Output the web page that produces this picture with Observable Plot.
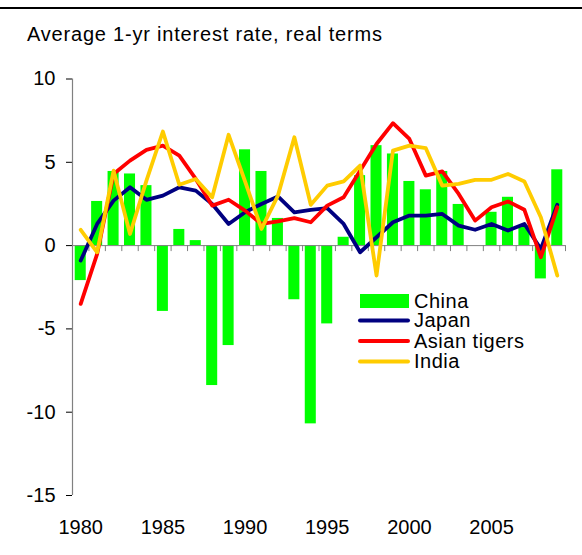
<!DOCTYPE html>
<html>
<head>
<meta charset="utf-8">
<script src="https://cdn.jsdelivr.net/npm/d3@7"></script>
<script src="https://cdn.jsdelivr.net/npm/@observablehq/plot@0.6"></script>
<style>
  body { margin: 0; background: #fff; font-family: "Liberation Sans", Arial, sans-serif; }
  #wrap { position: relative; width: 582px; height: 555px; overflow: hidden; background: #fff; }
  #rule { position: absolute; left: 0; top: 7px; width: 582px; height: 2px; background: #000; }
  #title { position: absolute; left: 27px; top: 24px; font-size: 20px; line-height: 20px; letter-spacing: 0.8px; color: #000; white-space: nowrap; }
  #chart { position: absolute; left: 0; top: 0; }
  #legend { position: absolute; left: 0; top: 0; }
</style>
</head>
<body>
<div id="wrap">
  <div id="rule"></div>
  <div id="title">Average 1-yr interest rate, real terms</div>
  <div id="chart"></div>
  <div id="legend"></div>
</div>
<script>
// ---- data ----
const years = [1980,1981,1982,1983,1984,1985,1986,1987,1988,1989,
               1990,1991,1992,1993,1994,1995,1996,1997,1998,1999,
               2000,2001,2002,2003,2004,2005,2006,2007,2008,2009];
const china  = [-2.1, 2.65, 4.45, 4.3, 3.6, -3.95, 0.97, 0.3, -8.4, -6.0,
                5.75, 4.45, 1.63, -3.25, -10.7, -4.7, 0.5, 4.2, 6.0, 5.5,
                3.85, 3.35, 4.45, 2.47, 0, 2.0, 2.9, 1.2, -2.0, 4.55];
const japan  = [-0.9, 1.3, 2.7, 3.5, 2.75, 3.0, 3.5, 3.3, 2.5, 1.3,
                2.0, 2.5, 2.95, 2.0, 2.15, 2.25, 1.3, -0.4, 0.5, 1.4,
                1.8, 1.8, 1.9, 1.2, 0.95, 1.3, 0.9, 1.3, -0.2, 2.45];
const tigers = [-3.5, -0.5, 4.3, 5.1, 5.75, 6.0, 5.4, 4.0, 2.4, 2.75,
                2.1, 1.3, 1.45, 1.65, 1.4, 2.4, 2.9, 4.5, 6.1, 7.35,
                6.4, 4.2, 4.45, 3.1, 1.5, 2.3, 2.65, 2.15, -0.7, 2.3];
const india  = [0.95, -0.4, 4.5, 0.7, 3.9, 6.85, 3.65, 4.0, 2.9, 6.65,
                3.85, 1.0, 3.0, 6.5, 2.45, 3.6, 3.85, 4.8, -1.8, 5.7,
                6.0, 5.85, 3.6, 3.7, 3.95, 3.95, 4.3, 3.85, 1.7, -1.8];
const yTicks = [-15, -10, -5, 0, 5, 10];
const xTickLabels = [1980, 1985, 1990, 1995, 2000, 2005];
const seriesNames = ["China", "Japan", "Asian tigers", "India"];
const seriesColors = ["#00FF00", "#000080", "#FF0000", "#FFCC00"];

// ---- build table ----
const rows = years.map((yr, i) => ({year: yr, china: china[i], japan: japan[i], tigers: tigers[i], india: india[i]}));
const boundaries = years.concat([years[years.length - 1] + 1]).map(y => y - 0.5);
const grey = "#808080";
const lineStyle = {strokeWidth: 3.8, strokeLinejoin: "round", strokeLinecap: "round"};

const chart = Plot.plot({
  width: 582,
  height: 555,
  marginTop: 78.5,
  marginBottom: 60,
  marginLeft: 72,
  marginRight: 17,
  style: {fontFamily: "'Liberation Sans', Arial, sans-serif", fontSize: "20px", color: "#000", background: "transparent", overflow: "visible"},
  x: {type: "linear", domain: [boundaries[0], boundaries[boundaries.length - 1]], ticks: xTickLabels, tickFormat: d => String(d), tickSize: 0, tickPadding: 24, label: null},
  y: {domain: [yTicks[0], yTicks[yTicks.length - 1]], ticks: yTicks, tickFormat: d => String(d), tickSize: 6, tickPadding: 11, label: null},
  marks: [
    Plot.rectY(rows, {x1: d => d.year - 0.5, x2: d => d.year + 0.5, y1: 0, y2: "china", fill: seriesColors[0], insetLeft: 2.7, insetRight: 2.7}),
    Plot.ruleY([0], {stroke: grey, strokeWidth: 1}),
    Plot.ruleX(boundaries, {y1: 0, y2: 0, insetBottom: -6, stroke: grey, strokeWidth: 1}),
    Plot.ruleX([boundaries[0]], {y1: yTicks[0], y2: yTicks[yTicks.length - 1], stroke: grey, strokeWidth: 1.2}),
    Plot.line(rows, {x: "year", y: "japan", stroke: seriesColors[1], ...lineStyle}),
    Plot.line(rows, {x: "year", y: "tigers", stroke: seriesColors[2], ...lineStyle}),
    Plot.line(rows, {x: "year", y: "india", stroke: seriesColors[3], ...lineStyle})
  ]
});
document.getElementById("chart").appendChild(chart);

// ---- legend ----
const lg = d3.select("#legend").append("svg").attr("width", 582).attr("height", 555)
  .style("font-family", "'Liberation Sans', Arial, sans-serif").style("font-size", "20px");
const rowY = [301, 320.5, 341, 361.5];
seriesNames.forEach((name, i) => {
  const g = lg.append("g").attr("transform", `translate(0,${rowY[i]})`);
  if (i === 0) {
    g.append("rect").attr("x", 360).attr("y", -7).attr("width", 49).attr("height", 14).attr("fill", seriesColors[i]);
  } else {
    g.append("line").attr("x1", 360).attr("x2", 408).attr("y1", 0).attr("y2", 0)
      .attr("stroke", seriesColors[i]).attr("stroke-width", 4).attr("stroke-linecap", "round");
  }
  g.append("text").attr("x", 414).attr("y", 6.5).attr("fill", "#000").attr("letter-spacing", "0.5px").text(name);
});
</script>
</body>
</html>
